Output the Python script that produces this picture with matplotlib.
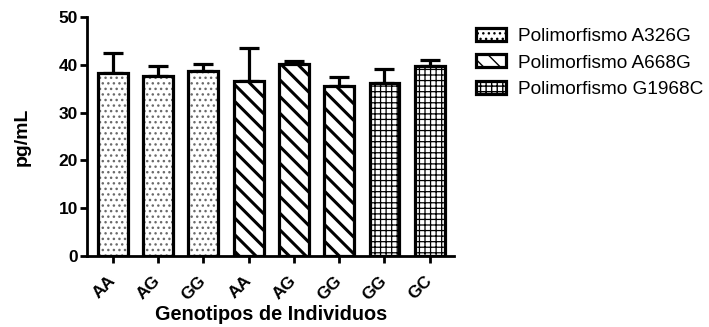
import matplotlib.pyplot as plt
from matplotlib.patches import Patch
from matplotlib.transforms import ScaledTranslation
import numpy as np

plt.rcParams['font.family'] = ['Liberation Sans', 'DejaVu Sans']

genotypes = ['AA', 'AG', 'GG', 'AA', 'AG', 'GG', 'GG', 'GC']
means = [38.2, 37.6, 38.8, 36.7, 40.1, 35.5, 36.2, 39.7]
errors = [4.2, 2.1, 1.3, 6.8, 0.8, 2.0, 3.0, 1.3]
groups = ['Polimorfismo A326G', 'Polimorfismo A668G', 'Polimorfismo G1968C']
group_of_bar = [0, 0, 0, 1, 1, 1, 2, 2]

hatches = ['...', '\\\\', '+++']
hatch_colors = ['#6a6a6a', 'black', 'black']
hatch_widths = [1.0, 2.2, 0.9]

fig = plt.figure(figsize=(7.09, 3.27), dpi=100)
ax = fig.add_axes([0.1227, 0.217, 0.5173, 0.731])

x = np.arange(len(genotypes))
width = 0.66

# hatched fill first, then outline and error bars on top
for i in range(len(x)):
    g = group_of_bar[i]
    with plt.rc_context({'hatch.linewidth': hatch_widths[g]}):
        ax.bar(x[i], means[i], width, color='white', edgecolor=hatch_colors[g],
               hatch=hatches[g], linewidth=0, zorder=2)
ax.bar(x, means, width, facecolor='none', edgecolor='black', linewidth=2.3, zorder=3)
ax.errorbar(x, means, yerr=[np.zeros(len(x)), errors], fmt='none', ecolor='black',
            elinewidth=2.3, capsize=7.5, capthick=2.3, zorder=1)

ax.set_xlim(-0.57, 7.53)
ax.set_ylim(0, 50)
ax.set_yticks([0, 10, 20, 30, 40, 50])
ax.set_xticks(x)
ax.set_xticklabels(genotypes, rotation=45, ha='right', va='center',
                   rotation_mode='anchor', fontweight='bold', fontsize=12.5)
shift = ScaledTranslation(6 / 100, 1 / 100, fig.dpi_scale_trans)
for lab in ax.get_xticklabels():
    lab.set_transform(lab.get_transform() + shift)
for lab in ax.get_yticklabels():
    lab.set_fontweight('bold')
    lab.set_fontsize(12.5)

for side in ['top', 'right']:
    ax.spines[side].set_visible(False)
for side in ['left', 'bottom']:
    ax.spines[side].set_linewidth(2.0)
ax.tick_params(axis='both', width=2.0, length=5, pad=1.5)
ax.tick_params(axis='x', pad=11)

fig.text(0.031, 0.581, 'pg/mL', rotation=90, ha='center', va='center',
         fontweight='bold', fontsize=14)
fig.text(271 / 709, 1 - 314 / 327, 'Genotipos de Individuos', ha='center', va='center',
         fontweight='bold', fontsize=14.3)

handles = []
for g in range(len(groups)):
    handles.append(Patch(facecolor='white', edgecolor='black', hatch=hatches[g],
                         linewidth=2.3, label=groups[g]))
with plt.rc_context({'hatch.linewidth': 1.0}):
    fig.legend(handles=handles, loc='upper left', bbox_to_anchor=(0.672, 0.915),
               frameon=False, fontsize=13.7, handlelength=1.53, handleheight=0.67,
               handletextpad=0.66, labelspacing=0.5, borderpad=0, borderaxespad=0)

fig.savefig('out.png', dpi=100)
